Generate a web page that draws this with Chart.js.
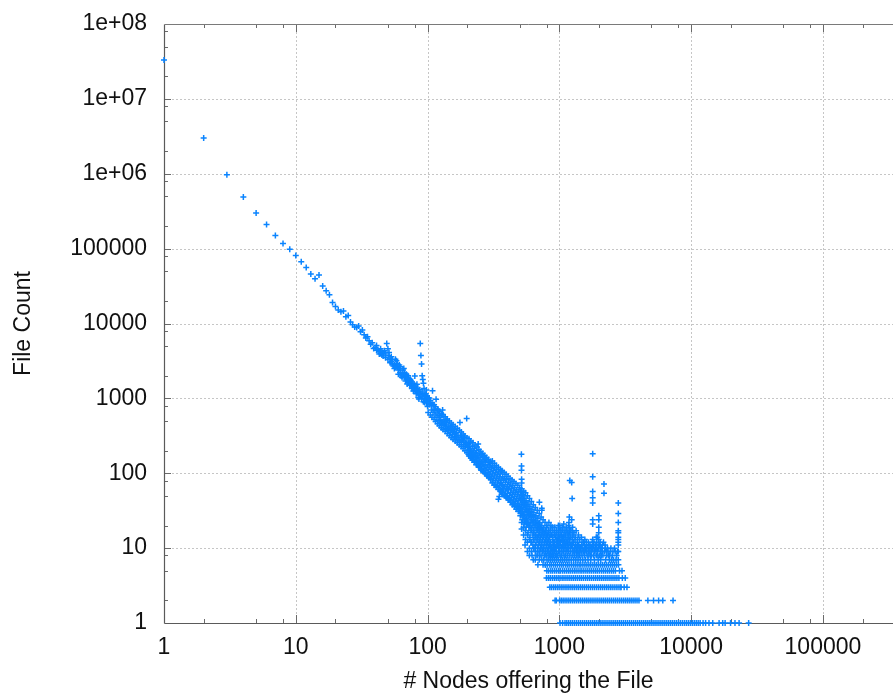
<!DOCTYPE html>
<html>
<head>
<meta charset="utf-8">
<title>File Count vs Nodes</title>
<script src="https://cdn.jsdelivr.net/npm/chart.js@4.4.1/dist/chart.umd.min.js"></script>
<style>
  html, body { margin: 0; padding: 0; background: #fff; overflow: hidden; }
  #wrap { width: 893px; height: 697px; }
</style>
</head>
<body>
<div id="wrap"><canvas id="nodesChart" width="893" height="697"></canvas></div>
<script>
// ===== DATA =====

// axis ticks
const xTickValues = [1, 10, 100, 1000, 10000, 100000];
const xTickLabels = ['1', '10', '100', '1000', '10000', '100000'];
const yTickValues = [1, 10, 100, 1000, 10000, 100000, 1e6, 1e7, 1e8];
const yTickLabels = ['1', '10', '100', '1000', '10000', '100000', '1e+06', '1e+07', '1e+08'];

// nodes 1..38, one file count each
const headNodes = [1, 2, 3, 4, 5, 6, 7, 8, 9, 10, 11, 12, 13, 14, 15, 16, 17, 18, 19, 20,
  21, 22, 23, 24, 25, 26, 27, 28, 29, 30, 31, 32, 33, 34, 35, 36, 37, 38];
const headCounts = [33000000, 3000000, 970000, 490000, 300000, 210000, 150000, 117000, 98000, 81000,
  67000, 56000, 46000, 39500, 44300, 31600, 27300, 24200, 19100, 16900,
  15100, 14300, 14700, 12300, 12800, 10500, 9600, 9000, 8870, 9230,
  7750, 8170, 7060, 6400, 6640, 5870, 5300, 5520];

// [nodes, file count] for 39..99
const midPoints = [
  [39, 4650], [40, 4790], [41, 4400], [42, 4510], [43, 4200], [44, 4000], [45, 3800], [46, 3670],
  [47, 4320], [48, 3500], [49, 5420], [50, 4600], [51, 3700], [52, 3350], [53, 3080], [54, 2900],
  [55, 2700], [56, 2800], [57, 3320], [58, 3180], [59, 2600], [60, 2390], [61, 2500], [62, 2640],
  [63, 1990], [64, 2200], [65, 2390], [66, 2050], [67, 1900], [68, 2000], [69, 1780], [70, 1850],
  [71, 1720], [72, 1640], [73, 1750], [74, 1560], [75, 1500], [76, 1540], [77, 1420], [78, 1450],
  [79, 1380], [80, 1990], [81, 1290], [82, 1330], [83, 1540], [84, 1200], [85, 1030], [86, 1150],
  [87, 1110], [88, 5420], [89, 3750], [90, 2870], [91, 2000], [92, 1790], [93, 1590], [94, 1360],
  [95, 1060], [96, 1100], [97, 980], [98, 1290], [99, 930],
  [41, 5100], [43, 3900], [44, 4600], [45, 4200], [46, 4000], [48, 3900], [50, 3300], [51, 4100],
  [52, 3000], [53, 3600], [54, 3300], [56, 2500], [57, 2600], [58, 2800], [59, 2900], [60, 2100],
  [61, 2800], [62, 2200], [64, 1900], [65, 2000], [66, 2500], [67, 2200], [68, 1700], [69, 2100],
  [70, 1550], [71, 2000], [72, 1850], [73, 1500], [74, 1800], [75, 1700], [76, 1350], [77, 1600],
  [78, 1250], [79, 1550], [80, 1300], [81, 1450], [82, 1150], [83, 1250], [84, 1380], [85, 1250],
  [86, 980], [87, 1300], [89, 1150], [90, 1000], [91, 1220], [92, 1050], [93, 900], [94, 1130],
  [95, 880], [96, 960], [97, 1150], [98, 870], [99, 1050]
];

// [nodes, file count] for 100..999, core of the band
const cloudPoints = [
  [100, 900], [100, 780], [103, 830], [103, 1010], [104, 860], [107, 700], [107, 800], [109, 1260],
  [110, 820], [110, 650], [112, 720], [114, 600], [114, 690], [116, 970], [118, 560], [118, 640],
  [120, 700], [122, 510], [122, 590], [124, 470], [124, 560], [126, 520], [128, 450], [128, 610],
  [130, 700], [130, 490], [133, 430], [133, 520], [135, 460], [137, 400], [137, 480], [140, 420],
  [140, 510], [142, 380], [145, 440], [145, 370], [148, 400], [150, 350], [150, 420], [153, 380],
  [155, 330], [155, 400], [158, 360], [160, 310], [160, 380], [163, 340], [166, 300], [166, 350],
  [170, 320], [170, 280], [173, 300], [176, 475], [176, 270], [178, 320], [181, 260], [181, 300],
  [184, 280], [187, 240], [187, 270], [190, 300], [193, 230], [193, 260], [197, 250], [198, 540],
  [200, 220], [200, 240],
  [204, 250], [204, 205], [204, 180], [208, 230], [208, 190], [211, 170], [211, 210], [211, 260],
  [215, 195], [215, 160], [218, 230], [218, 180], [218, 150], [222, 200], [222, 165], [226, 215],
  [226, 175], [226, 140], [230, 185], [230, 155], [234, 200], [234, 160], [234, 130], [238, 175],
  [238, 140], [242, 245], [242, 160], [242, 130], [246, 185], [246, 145], [246, 120], [250, 165],
  [250, 135], [255, 175], [255, 140], [255, 110], [259, 150], [259, 125], [264, 165], [264, 130],
  [264, 105], [268, 145], [268, 115], [273, 155], [273, 125], [273, 100], [277, 140], [277, 110],
  [282, 150], [282, 118], [282, 92], [287, 130], [287, 102], [292, 140], [292, 112], [292, 88],
  [297, 125], [297, 96], [302, 135], [302, 105], [302, 82], [307, 118], [307, 90], [312, 125],
  [312, 98], [312, 76], [318, 110], [318, 85], [323, 118], [323, 92], [323, 70], [329, 102],
  [329, 80], [335, 112], [335, 86], [335, 66], [340, 96], [340, 74], [345, 45], [345, 104],
  [345, 80], [350, 49], [350, 90], [350, 68], [356, 98], [356, 75], [356, 60], [361, 107],
  [361, 84], [364, 70], [364, 56], [370, 90], [370, 68], [370, 52], [377, 80], [377, 62],
  [383, 86], [383, 66], [383, 50], [390, 75], [390, 58], [397, 82], [397, 63], [397, 47],
  [404, 70], [404, 54], [411, 76], [411, 60], [411, 44], [418, 66], [418, 50], [425, 72],
  [425, 55], [425, 41], [432, 62], [432, 47], [440, 68], [440, 52], [440, 38], [447, 58],
  [447, 44], [455, 64], [455, 49], [455, 36], [463, 55], [463, 42], [471, 60], [471, 46],
  [471, 33], [479, 52], [479, 39], [487, 57], [487, 43], [487, 31], [496, 48], [496, 36],
  [505, 56], [505, 44], [505, 34], [505, 27], [515, 180], [516, 125], [516, 110], [517, 83],
  [517, 74], [518, 57], [513, 50], [513, 38], [513, 29], [522, 52], [522, 40], [522, 31],
  [522, 24], [531, 46], [531, 35], [531, 27], [540, 48], [540, 37], [540, 28], [540, 21],
  [549, 41], [549, 31], [549, 23], [549, 11], [559, 43], [559, 33], [559, 25], [559, 19],
  [568, 38], [568, 28], [568, 21], [578, 40], [578, 30], [578, 22], [578, 16], [588, 34],
  [588, 26], [588, 19], [598, 36], [598, 27], [598, 20], [598, 14], [609, 31], [609, 23],
  [609, 17], [609, 12], [620, 33], [620, 24], [620, 8], [630, 28], [630, 21], [630, 15],
  [630, 11], [641, 30], [641, 22], [641, 16], [652, 26], [652, 19], [652, 13], [652, 10],
  [664, 27], [664, 20], [664, 14], [664, 8], [675, 23], [675, 17], [675, 12], [687, 25],
  [687, 18], [687, 13], [687, 9], [687, 6], [698, 21], [698, 15], [698, 11], [705, 41],
  [710, 22], [710, 16], [710, 12], [710, 8], [722, 19], [722, 14], [722, 10], [735, 34],
  [735, 32], [736, 20], [736, 15], [736, 11], [736, 7], [747, 17], [747, 13], [747, 9],
  [760, 18], [760, 14], [760, 10], [760, 7], [773, 16], [773, 12], [773, 8], [786, 17],
  [786, 13], [786, 9], [786, 6], [800, 19], [800, 14], [800, 11], [800, 8], [814, 15],
  [814, 12], [814, 9], [828, 17], [828, 13], [828, 10], [828, 7], [843, 14], [843, 11],
  [843, 8], [857, 18], [857, 12], [857, 9], [857, 7], [872, 15], [872, 10], [872, 8],
  [887, 19], [887, 13], [887, 9], [887, 7], [903, 12], [903, 10], [903, 8], [918, 16],
  [918, 11], [918, 9], [918, 7], [934, 14], [934, 10], [934, 8], [950, 17], [950, 12],
  [950, 9], [950, 7], [967, 13], [967, 11], [967, 8], [983, 20], [983, 15], [983, 10], [983, 7]
];

// [nodes, file count] for 100..999, outer edges of the band
const spreadPoints = [
  [101, 1020], [101, 650], [105, 940], [105, 600], [108, 875], [108, 560], [112, 820], [112, 525],
  [115, 770], [115, 490], [119, 720], [119, 460], [123, 670], [123, 430], [127, 630], [127, 405],
  [131, 600], [131, 385], [136, 570], [136, 365], [141, 530], [141, 340], [146, 500], [146, 320],
  [151, 470], [151, 300], [156, 445], [156, 285], [162, 420], [162, 270], [168, 400], [168, 255],
  [174, 375], [174, 240], [180, 355], [180, 228], [186, 335], [186, 214], [192, 315], [192, 200],
  [199, 295], [199, 190], [206, 290], [206, 170], [213, 270], [213, 160], [221, 255], [221, 150],
  [229, 238], [229, 141], [237, 224], [237, 132], [245, 208], [245, 123], [253, 195], [253, 115],
  [262, 183], [262, 108], [271, 173], [271, 102], [280, 162], [280, 96], [290, 153], [290, 91],
  [300, 143], [300, 85], [310, 146], [310, 74], [321, 136], [321, 69], [332, 127], [332, 65],
  [344, 120], [344, 61], [356, 113], [356, 58], [368, 108], [368, 55], [381, 102], [381, 52],
  [394, 97], [394, 49], [408, 91], [408, 46], [422, 85], [422, 44], [437, 81], [437, 41],
  [452, 77], [452, 39], [468, 73], [468, 37], [484, 69], [484, 35], [500, 64], [500, 33],
  [517, 62], [517, 45], [517, 30], [517, 22], [517, 18], [535, 58], [535, 42], [535, 26],
  [535, 19], [535, 15], [553, 55], [553, 36], [553, 24], [553, 17], [553, 13], [572, 50],
  [572, 32], [572, 22], [572, 15], [572, 12], [572, 9], [592, 46], [592, 29], [592, 20],
  [592, 13], [592, 10], [592, 8], [613, 42], [613, 26], [613, 18], [613, 12], [613, 9],
  [634, 38], [634, 24], [634, 17], [634, 13], [634, 10], [634, 7], [656, 35], [656, 22],
  [656, 15], [656, 11], [656, 9], [656, 7], [679, 32], [679, 20], [679, 14], [679, 10],
  [679, 8], [703, 29], [703, 18], [703, 13], [703, 9], [703, 7], [727, 26], [727, 17],
  [727, 12], [727, 10], [727, 8], [752, 24], [752, 16], [752, 11], [752, 9], [752, 6],
  [778, 22], [778, 15], [778, 12], [778, 10], [778, 8], [805, 20], [805, 16], [805, 13],
  [805, 10], [805, 7], [833, 22], [833, 16], [833, 12], [833, 9], [833, 8], [862, 20],
  [862, 15], [862, 11], [862, 10], [862, 8], [892, 17], [892, 14], [892, 11], [892, 9],
  [892, 8], [923, 19], [923, 15], [923, 12], [923, 10], [955, 16], [955, 13], [955, 11],
  [955, 8], [988, 18], [988, 14], [988, 12], [988, 9]
];

// [nodes, file count] for 1000..2800 above the low rows, incl. the spikes
const tailPoints = [
  [1003, 14], [1003, 9], [1012, 17], [1012, 11], [1012, 8], [1024, 12], [1024, 7], [1036, 15],
  [1036, 10], [1036, 8], [1048, 13], [1048, 9], [1060, 19], [1060, 11], [1060, 7], [1072, 14],
  [1072, 9], [1085, 16], [1085, 10], [1085, 8], [1098, 12], [1098, 7], [1111, 15], [1111, 11],
  [1111, 8], [1125, 13], [1125, 9], [1139, 17], [1139, 10], [1139, 7], [1153, 12], [1153, 8],
  [1167, 14], [1167, 11], [1167, 9], [1182, 22], [1182, 10], [1182, 7], [1190, 26], [1190, 18],
  [1190, 16], [1190, 13], [1200, 80], [1200, 12], [1200, 8], [1215, 14], [1215, 9], [1230, 11],
  [1230, 7], [1240, 75], [1240, 24], [1250, 46], [1250, 17], [1250, 13], [1250, 10], [1250, 8],
  [1266, 15], [1266, 9], [1282, 12], [1282, 7], [1298, 10], [1298, 8], [1315, 13], [1315, 9],
  [1332, 11], [1332, 7], [1350, 9], [1350, 8], [1368, 12], [1368, 10], [1386, 8], [1386, 7],
  [1405, 11], [1405, 9], [1424, 13], [1424, 8], [1444, 10], [1444, 7], [1464, 9], [1485, 12],
  [1485, 8], [1506, 10], [1506, 7], [1528, 9], [1550, 11], [1550, 8], [1573, 7], [1573, 10],
  [1600, 9], [1600, 12], [1625, 8], [1650, 10], [1650, 7], [1676, 8], [1676, 11], [1703, 9],
  [1730, 7], [1730, 8], [1758, 10], [1775, 12], [1790, 182], [1790, 90], [1790, 57], [1790, 47],
  [1790, 40], [1790, 24], [1790, 21], [1790, 13], [1790, 10], [1815, 8], [1815, 11], [1845, 9],
  [1845, 7], [1876, 10], [1905, 8], [1905, 14], [1940, 14], [1940, 9], [1970, 11], [1970, 7],
  [1990, 27], [1990, 24], [1990, 19], [1990, 16], [1990, 13], [1990, 10], [2020, 8], [2020, 11],
  [2060, 9], [2060, 7], [2100, 10], [2140, 8], [2180, 72], [2180, 54], [2200, 9], [2240, 7],
  [2240, 10], [2290, 8], [2340, 9], [2400, 8], [2400, 7], [2460, 10], [2520, 8], [2580, 7],
  [2650, 9], [2720, 8], [2800, 40], [2800, 29], [2800, 22], [2800, 17], [2800, 16], [2800, 14],
  [2800, 13], [2800, 12], [2800, 11], [2800, 9], [2800, 7],
  [1008, 20], [1008, 12], [1008, 10], [1030, 16], [1030, 13], [1055, 18], [1055, 14], [1055, 12],
  [1080, 21], [1080, 13], [1080, 11], [1105, 17], [1105, 14], [1105, 10], [1130, 19], [1130, 12],
  [1160, 16], [1160, 13], [1160, 10], [1175, 20], [1175, 15], [1210, 17], [1210, 11], [1260, 19],
  [1260, 14], [1260, 11], [1290, 16], [1290, 9], [1320, 14], [1320, 11], [1340, 17], [1340, 10],
  [1375, 13], [1375, 9], [1395, 15], [1395, 11], [1430, 10], [1430, 9], [1470, 14], [1470, 11],
  [1520, 12], [1520, 9], [1560, 13], [1560, 9], [1610, 11], [1610, 10], [1660, 12], [1660, 9],
  [1710, 11], [1710, 10], [1750, 9], [1750, 8], [1830, 12], [1830, 10], [1860, 9], [1890, 11],
  [1920, 10], [1920, 12], [1960, 8], [2040, 12], [2040, 10], [2080, 8], [2120, 11], [2120, 9],
  [2160, 12], [2220, 11], [2270, 9], [2320, 10], [2370, 8], [2430, 9], [2490, 7], [2550, 9],
  [2620, 10], [2690, 7], [2760, 9]
];

// low rows: file counts 1..6 and the nodes that have them
const bandCounts = [1, 2, 3, 4, 5, 6];
const bandNodes = [
  [1012, 1058, 1103, 1139, 1178, 1219, 1261, 1305, 1351, 1398, 1446, 1497, 1549, 1603, 1659, 1717,
   1777, 1839, 1903, 1969, 2038, 2109, 2182, 2258, 2337, 2419, 2503, 2590, 2680, 2774, 2871, 2971,
   3074, 3181, 3292, 3407, 3526, 3649, 3776, 3908, 4044, 4185, 4331, 4482, 4638, 4800, 4967, 5140,
   5319, 5505, 5697, 5895, 6101, 6313, 6534, 6761, 6997, 7241, 7494, 7755, 8025, 8305, 8594, 8894,
   9204, 9525, 9857, 10200, 10556, 10924, 11305, 11699, 12310, 12870, 13655, 14580, 16290, 17350,
   18100, 19900, 21500, 23100, 27300],
  [928, 948, 1004, 1035, 1068, 1104, 1141, 1180, 1219, 1262, 1304, 1349, 1396, 1443, 1493, 1545,
   1598, 1653, 1711, 1770, 1831, 1895, 1960, 2029, 2099, 2172, 2247, 2326, 2406, 2490, 2577, 2666,
   2759, 2855, 2954, 3057, 3163, 3273, 3387, 3504, 3626, 3752, 3883, 4018, 4694, 5183, 5662, 6091,
   7284],
  [846, 872, 902, 931, 963, 995, 1031, 1066, 1104, 1142, 1181, 1223, 1265, 1309, 1356, 1402, 1451,
   1502, 1554, 1609, 1664, 1723, 1784, 1845, 1910, 1977, 2046, 2118, 2192, 2269, 2347, 2431, 2514,
   2603, 2695, 2787, 2885, 2941, 3102, 3257],
  [798, 826, 853, 884, 915, 946, 979, 1012, 1049, 1084, 1122, 1161, 1201, 1243, 1286, 1331, 1377,
   1426, 1473, 1524, 1579, 1633, 1690, 1749, 1811, 1874, 1939, 2006, 2078, 2150, 2225, 2302, 2383,
   2466, 2552, 2641, 2733, 2830, 3005, 3162],
  [803, 829, 861, 889, 921, 952, 986, 1019, 1057, 1093, 1131, 1170, 1208, 1252, 1297, 1339, 1386,
   1435, 1481, 1533, 1589, 1644, 1702, 1760, 1823, 1888, 1949, 2017, 2091, 2163, 2239, 2318, 2398,
   2485, 2570, 2661, 2859, 2987],
  [781, 812, 846, 871, 903, 934, 967, 1004, 1038, 1071, 1112, 1149, 1186, 1231, 1275, 1318, 1364,
   1412, 1455, 1508, 1562, 1617, 1674, 1731, 1795, 1857, 1921, 1988, 2061, 2133, 2207, 2284, 2362,
   2449, 2530, 2619, 2712, 2806]
];

// minor tick multipliers used on both log axes
const minorSteps = [2, 5, 8];

// ===== STYLE =====
const markerColor = 'rgb(10, 132, 255)';
const fontFamily = '"Liberation Sans", Arial, Helvetica, sans-serif';

// ===== BUILD POINTS =====
function buildPoints() {
    const pts = [];
    headNodes.forEach((n, i) => pts.push({ x: n, y: headCounts[i] }));
    [midPoints, cloudPoints, spreadPoints, tailPoints].forEach(list => {
        list.forEach(p => pts.push({ x: p[0], y: p[1] }));
    });
    bandCounts.forEach((c, i) => {
        bandNodes[i].forEach(n => pts.push({ x: n, y: c }));
    });
    return pts;
}

// frame, dotted grid and inward ticks
const frameAxes = {
    id: 'frameAxes',
    beforeDatasetsDraw(chart) {
        const { ctx, chartArea: a, scales: { x, y } } = chart;
        const line = (x1, y1, x2, y2) => {
            ctx.beginPath();
            ctx.moveTo(x1, y1);
            ctx.lineTo(x2, y2);
            ctx.stroke();
        };
        ctx.save();

        // dotted grid at decades
        ctx.strokeStyle = '#c6c6c6';
        ctx.lineWidth = 1;
        ctx.setLineDash([2, 2]);
        xTickValues.slice(1).forEach(v => {
            const px = Math.round(x.getPixelForValue(v)) + 0.5;
            line(px, a.top, px, a.bottom);
        });
        yTickValues.slice(1, -1).forEach(v => {
            const py = Math.round(y.getPixelForValue(v)) + 0.5;
            line(a.left, py, a.right, py);
        });
        ctx.setLineDash([]);

        // ticks
        ctx.strokeStyle = '#6a6a6a';
        ctx.lineWidth = 1;
        xTickValues.forEach(v => {
            const px = Math.round(x.getPixelForValue(v)) + 0.5;
            if (v > 1) {
                line(px, a.bottom, px, a.bottom - 8);
                line(px, a.top, px, a.top + 8);
            }
            minorSteps.forEach(m => {
                const mv = v * m;
                if (mv > x.max) return;
                const mx = Math.round(x.getPixelForValue(mv)) + 0.5;
                line(mx, a.bottom, mx, a.bottom - 4);
                line(mx, a.top, mx, a.top + 4);
            });
        });
        yTickValues.forEach(v => {
            const py = Math.round(y.getPixelForValue(v)) + 0.5;
            if (v > 1 && v < 1e8) line(a.left, py, a.left + 7, py);
            minorSteps.forEach(m => {
                const mv = v * m;
                if (mv > y.max) return;
                const my = Math.round(y.getPixelForValue(mv)) + 0.5;
                line(a.left, my, a.left + 4, my);
            });
        });

        // axis lines: left, bottom, top
        ctx.strokeStyle = '#5a5a5a';
        ctx.lineWidth = 1.2;
        const left = Math.round(a.left) + 0.5;
        const top = Math.round(a.top) + 0.5;
        const bottom = Math.round(a.bottom) + 0.5;
        line(left, top, left, bottom);
        line(left, bottom, a.right, bottom);
        ctx.strokeStyle = '#7a7a7a';
        ctx.lineWidth = 1;
        line(left, top, a.right, top);

        ctx.restore();
    }
};

// Create scatter chart
function createScatterChart() {
    const ctx = document.getElementById('nodesChart');
    if (!ctx || typeof Chart === 'undefined') {
        console.log('Chart.js not loaded');
        return;
    }

    new Chart(ctx, {
        type: 'scatter',
        data: {
            datasets: [{
                data: buildPoints(),
                pointStyle: 'cross',
                pointRadius: 3,
                pointBorderWidth: 1.5,
                borderColor: markerColor,
                backgroundColor: markerColor,
                clip: false
            }]
        },
        options: {
            responsive: false,
            animation: false,
            devicePixelRatio: 1,
            layout: { autoPadding: false, padding: { top: 24, right: 0, bottom: 0, left: 0 } },
            plugins: {
                legend: { display: false },
                tooltip: { enabled: false }
            },
            scales: {
                x: {
                    type: 'logarithmic',
                    position: 'bottom',
                    min: 1,
                    max: 340000,
                    afterBuildTicks: axis => { axis.ticks = xTickValues.map(v => ({ value: v })); },
                    afterFit: axis => {
                        axis.height = 74;
                        axis.paddingLeft = 0;
                        axis.paddingRight = 0;
                    },
                    grid: { display: false, drawTicks: false },
                    border: { display: false },
                    ticks: {
                        color: '#111',
                        font: { family: fontFamily, size: 23 },
                        padding: 11,
                        maxRotation: 0,
                        autoSkip: false,
                        callback: (value, index) => xTickLabels[index]
                    },
                    title: {
                        display: true,
                        text: '# Nodes offering the File',
                        color: '#111',
                        font: { family: fontFamily, size: 23 },
                        padding: { top: 0, bottom: 2 }
                    }
                },
                y: {
                    type: 'logarithmic',
                    position: 'left',
                    min: 1,
                    max: 1e8,
                    afterBuildTicks: axis => { axis.ticks = yTickValues.map(v => ({ value: v })); },
                    afterFit: axis => {
                        axis.width = 164;
                        axis.paddingTop = 0;
                        axis.paddingBottom = 0;
                    },
                    grid: { display: false, drawTicks: false },
                    border: { display: false },
                    ticks: {
                        color: '#111',
                        font: { family: fontFamily, size: 23 },
                        padding: 17,
                        autoSkip: false,
                        callback: (value, index) => yTickLabels[index]
                    },
                    title: {
                        display: true,
                        text: 'File Count',
                        color: '#111',
                        font: { family: fontFamily, size: 23 },
                        padding: { top: 10, bottom: 0 }
                    }
                }
            }
        },
        plugins: [frameAxes]
    });
}

document.addEventListener('DOMContentLoaded', function() {
    createScatterChart();
});
</script>
</body>
</html>
